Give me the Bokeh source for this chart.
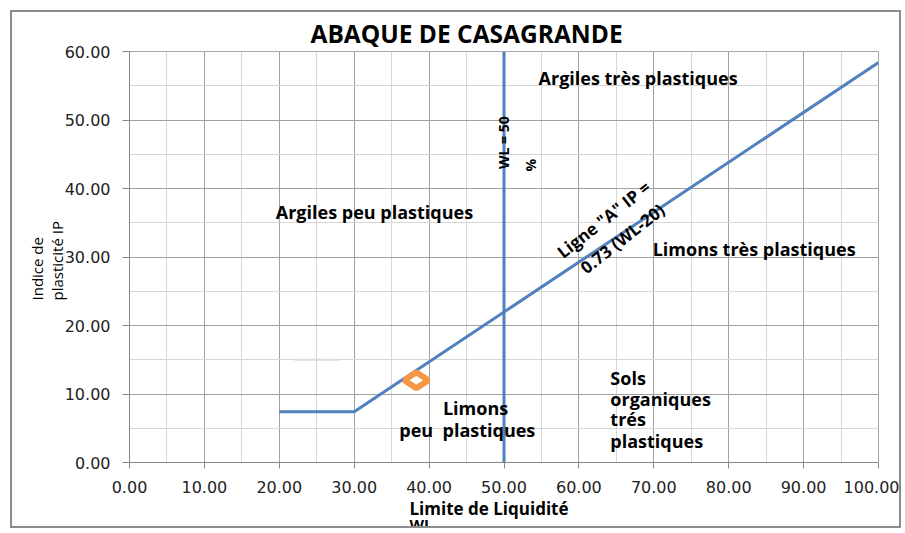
from bokeh.plotting import figure
from bokeh.models import Label, FixedTicker, Range1d, Title
from bokeh.embed import file_html
from bokeh.resources import INLINE
import math

# ---- data ----
x_ticks = [0, 10, 20, 30, 40, 50, 60, 70, 80, 90, 100]
x_tick_labels = ["0.00", "10.00", "20.00", "30.00", "40.00", "50.00",
                 "60.00", "70.00", "80.00", "90.00", "100.00"]
x_minor = [5, 15, 25, 35, 45, 55, 65, 75, 85, 95]
y_ticks = [0, 10, 20, 30, 40, 50, 60]
y_tick_labels = ["0.00", "10.00", "20.00", "30.00", "40.00", "50.00", "60.00"]
y_minor = [5, 15, 25, 35, 45, 55]

aline_wl = [20, 30, 100]          # Ligne "A"
aline_ip = [7.4, 7.4, 58.4]
wl50_wl = [50, 50]                # WL = 50 %
wl50_ip = [0, 60]
sample_wl = [38.3]                # echantillon
sample_ip = [12.0]
ghost_wl = [22, 28]
ghost_ip = [15, 15]

BLUE = "#4F81BD"
ORANGE = "#F79646"
F = "Open Sans"

p = figure(width=891, height=518, x_range=Range1d(0, 100), y_range=Range1d(0, 60),
           output_backend="svg", toolbar_location=None,
           min_border_left=117, min_border_top=39, min_border_right=25,
           min_border_bottom=68)
p.styles = {"border": "2px solid #8c8c8c", "margin-left": "10px", "margin-top": "10px"}
p.outline_line_color = "#a6a6a6"
p.background_fill_color = "white"
p.border_fill_color = "white"

# title
p.title.text = "ABAQUE DE CASAGRANDE"
p.title.align = "left"
p.title.offset = 181
p.title.text_font = F
p.title.text_font_size = "24.5px"
p.title.text_font_style = "bold"
p.title.text_color = "black"
p.title.standoff = 3

# grids
p.xgrid.ticker = FixedTicker(ticks=x_ticks, minor_ticks=x_minor)
p.ygrid.ticker = FixedTicker(ticks=y_ticks, minor_ticks=y_minor)
for g in (p.xgrid, p.ygrid):
    g.grid_line_color = "#a0a0a0"
    g.grid_line_width = 1
    g.minor_grid_line_color = "#d6d6d6"
    g.minor_grid_line_width = 1

# axes
p.xaxis.ticker = FixedTicker(ticks=x_ticks)
p.yaxis.ticker = FixedTicker(ticks=y_ticks)
p.xaxis.major_label_overrides = {t: l for t, l in zip(x_ticks, x_tick_labels)}
p.yaxis.major_label_overrides = {t: l for t, l in zip(y_ticks, y_tick_labels)}
for ax in (p.xaxis, p.yaxis):
    ax.axis_line_color = "#868686"
    ax.major_tick_line_color = "#868686"
    ax.minor_tick_line_color = None
    ax.major_tick_in = 0
    ax.major_label_text_font = "DejaVu Sans"
    ax.major_label_text_font_size = "16px"
    ax.major_label_text_color = "#222222"
p.xaxis.major_tick_out = 6
p.xaxis.major_label_standoff = 12
p.yaxis.major_tick_out = 7
p.yaxis.major_label_standoff = 12

# axis titles (outside the frame)
p.add_layout(Title(text="Limite de Liquidité", align="left", offset=280, text_font=F,
                   text_font_size="17px", text_font_style="bold", text_color="black",
                   standoff=-2), "below")
p.add_layout(Title(text="WL", align="left", offset=280, text_font=F,
                   text_font_size="15px", text_font_style="bold", text_color="black",
                   standoff=-14), "below")
p.add_layout(Title(text="plasticité IP", align="left", offset=162, text_font=F,
                   text_font_size="15px", text_font_style="normal", text_color="black",
                   standoff=-11), "left")
p.add_layout(Title(text="Indice de", align="left", offset=162, text_font=F,
                   text_font_size="15px", text_font_style="normal", text_color="black",
                   standoff=7), "left")

# marks
p.line(ghost_wl, ghost_ip, line_color="#dcdcdc", line_width=2)
p.line(aline_wl, aline_ip, line_color=BLUE, line_width=3)
p.line(wl50_wl, wl50_ip, line_color=BLUE, line_width=3)
p.scatter(sample_wl, sample_ip, marker="diamond", size=24, angle=math.pi / 2,
          fill_color="white", line_color=ORANGE, line_width=6)


def lab(x, y, text, size="18px", bold=True, align="center", angle=0):
    p.add_layout(Label(x=x, y=y, text=text, text_font=F, text_font_size=size,
                       text_font_style="bold" if bold else "normal",
                       text_align=align, text_baseline="middle",
                       angle=angle, angle_units="deg", text_color="black"))


lab(67.9, 56.1, "Argiles très plastiques")
lab(32.7, 36.6, "Argiles peu plastiques")
lab(83.4, 31.2, "Limons très plastiques")
lab(46.2, 7.9, "Limons")
lab(45.1, 4.8, "peu\u00a0\u00a0plastiques")
for yy, t in zip([12.4, 9.3, 6.4, 3.2], ["Sols", "organiques", "trés", "plastiques"]):
    lab(64.2, yy, t, align="left")
lab(49.9, 46.7, "WL = 50", size="14px", angle=90)
lab(53.5, 43.4, "%", size="14px", angle=90)
lab(63.3, 35.5, "Ligne \"A\" IP =", size="17px", angle=38)
lab(65.8, 32.7, "0.73 (WL-20)", size="17px", angle=38)

open("out.html", "w").write(file_html(p, INLINE))
